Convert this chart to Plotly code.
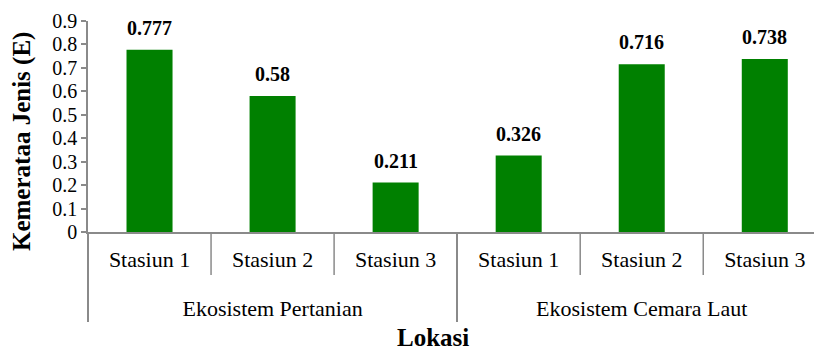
import plotly.graph_objects as go

groups = ["Ekosistem Pertanian"] * 3 + ["Ekosistem Cemara Laut"] * 3
stations = ["Stasiun 1", "Stasiun 2", "Stasiun 3", "Stasiun 1", "Stasiun 2", "Stasiun 3"]
values = [0.777, 0.58, 0.211, 0.326, 0.716, 0.738]
labels = ["0.777", "0.58", "0.211", "0.326", "0.716", "0.738"]
y_ticks = [0, 0.1, 0.2, 0.3, 0.4, 0.5, 0.6, 0.7, 0.8, 0.9]
y_ticktext = ["0", "0.1", "0.2", "0.3", "0.4", "0.5", "0.6", "0.7", "0.8", "0.9"]

FONT = "Liberation Serif"
AX = "#8a8a8a"
W, H = 814, 350
ML, MT, MB = 88, 21, 118
plot_w = W - ML
plot_h = H - MT - MB

# station labels get an empty second line so the group row sits lower
station_display = [s + "<br> " for s in stations]

fig = go.Figure()
fig.add_trace(go.Bar(
    x=[groups, station_display], y=values,
    marker=dict(color="#008000", line=dict(width=0)),
    showlegend=False, hoverinfo="skip",
))

for i, (v, t) in enumerate(zip(values, labels)):
    fig.add_annotation(x=i, y=v, xref="x", yref="y", text="<b>%s</b>" % t,
                       showarrow=False, yanchor="bottom", xanchor="center", yshift=9,
                       font=dict(family=FONT, size=20, color="black"))

# separators between stations inside the same group (axis furniture)
for i in range(len(groups) - 1):
    if groups[i] == groups[i + 1]:
        fig.add_shape(type="line", xref="x", yref="paper",
                      x0=i + 0.5, x1=i + 0.5, y0=0, y1=-43 / plot_h,
                      line=dict(color=AX, width=1.5))

fig.add_annotation(x=-(ML - 22) / plot_w, y=(MT + plot_h - 142) / plot_h,
                   xref="paper", yref="paper", text="<b>Kemerataa Jenis (E)</b>",
                   showarrow=False, textangle=-90, xanchor="center", yanchor="middle",
                   font=dict(family=FONT, size=25, color="black"))
fig.add_annotation(x=(433 - ML) / plot_w, y=-(337 - MT - plot_h) / plot_h,
                   xref="paper", yref="paper", text="<b>Lokasi</b>",
                   showarrow=False, xanchor="center", yanchor="middle",
                   font=dict(family=FONT, size=25, color="black"))

fig.update_layout(
    width=W, height=H,
    margin=dict(l=ML, r=0, t=MT, b=MB, pad=0),
    plot_bgcolor="white", paper_bgcolor="white",
    bargap=0.626,
    font=dict(family=FONT, size=22, color="black"),
)
fig.update_xaxes(
    type="multicategory", range=[-0.5, 5.40],
    showline=True, linecolor=AX, linewidth=1.5,
    ticks="", ticklabelstandoff=7,
    showdividers=True, dividercolor=AX, dividerwidth=1.5,
    tickfont=dict(family=FONT, size=22, color="black"),
    showgrid=False,
)
fig.update_yaxes(
    range=[0, 0.9], tickvals=y_ticks, ticktext=y_ticktext,
    showline=True, linecolor=AX, linewidth=1.5,
    ticks="outside", ticklen=5, tickcolor=AX, tickwidth=1.5,
    tickfont=dict(family=FONT, size=20, color="black"),
    showgrid=False, zeroline=False,
)

fig.write_html("out.html")
